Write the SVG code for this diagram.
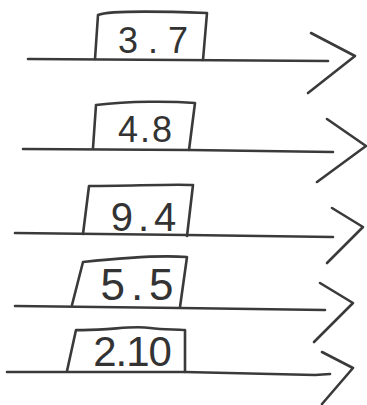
<svg xmlns="http://www.w3.org/2000/svg" width="367" height="405" viewBox="0 0 367 405">
<style>
.s{fill:none;stroke:#3a3a3a;stroke-width:2.6;stroke-linecap:round;stroke-linejoin:round}
.t{font-family:"Liberation Sans","DejaVu Sans",sans-serif;fill:#333;text-anchor:middle}
</style>
<rect width="367" height="405" fill="#fff"/>
<g id="connectors">
<g id="c1"><path class="s" d="M28,59 L180,60 L328,61"/><path class="s" d="M311,33 L355,56 L308,93"/></g>
<g id="c2"><path class="s" d="M23,149 L190,150 L333,152"/><path class="s" d="M327,119 L366,146 L317,182"/></g>
<g id="c3"><path class="s" d="M15,233 L187,235 L333,237"/><path class="s" d="M332,208 L363,227 L327,263"/></g>
<g id="c4"><path class="s" d="M15,306 L180,308 L325,310"/><path class="s" d="M320,283 L353,303 L314,342"/></g>
<g id="c5"><path class="s" d="M7,372 L185,372 L315,375 L330,374"/><path class="s" d="M322,352 L353,368 L322,404"/></g>
</g>
<g id="n1"><path class="s" d="M95,59 L98,15 C110,10 180,12 207,13 L203,60"/><text class="t" x="158" y="53" font-size="36" letter-spacing="10">3.7</text></g>
<g id="n2"><path class="s" d="M93,148 L96,105 C130,101 170,101 195,103 L189,150"/><text class="t" x="146" y="142" font-size="36" letter-spacing="2">4.8</text></g>
<g id="n3"><path class="s" d="M83,234 L89,186 C130,186 170,184 193,185 L187,236"/><text class="t" x="146" y="231" font-size="40" letter-spacing="5">9.4</text></g>
<g id="n4"><path class="s" d="M72,305 L83,262 C120,258 160,255 187,257 L180,307"/><text class="t" x="140" y="300" font-size="44" letter-spacing="6">5.5</text></g>
<g id="n5"><path class="s" d="M67,371 L76,330 C110,331 130,325 150,328 C165,330 175,329 185,330 L185,372"/><text class="t" x="132" y="366" font-size="42" letter-spacing="-1">2.10</text></g>
</svg>
